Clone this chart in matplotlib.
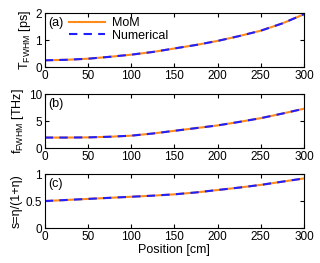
import numpy as np
import matplotlib
matplotlib.use('Agg')
import matplotlib.pyplot as plt

# values
position = [0, 25, 50, 75, 100, 125, 150, 175, 200, 225, 250, 275, 300]
t_fwhm = [0.25, 0.27, 0.31, 0.38, 0.46, 0.56, 0.69, 0.82, 0.97, 1.15, 1.35, 1.62, 1.96]
f_fwhm = [1.95, 1.95, 1.98, 2.1, 2.3, 2.7, 3.2, 3.7, 4.2, 4.85, 5.55, 6.4, 7.3]
s_eta = [0.50, 0.52, 0.54, 0.56, 0.58, 0.60, 0.625, 0.66, 0.705, 0.75, 0.80, 0.86, 0.92]

ylabels = [r'T$_{\rm FWHM}$ [ps]', r'f$_{\rm FWHM}$ [THz]', 's=η/(1+η)']
ylims = [(0, 2), (0, 10), (0, 1)]
yticks = [[0, 1, 2], [0, 5, 10], [0, 0.5, 1]]
yticklabels = [['0', '1', '2'], ['0', '5', '10'], ['0', '0.5', '1']]
tags = ['(a)', '(b)', '(c)']
series = [t_fwhm, f_fwhm, s_eta]

orange = '#ff8c1a'
blue = '#1f1fff'

plt.rcParams['font.family'] = ['Liberation Sans', 'DejaVu Sans']
plt.rcParams['mathtext.fontset'] = 'custom'
plt.rcParams['mathtext.rm'] = 'Liberation Sans'
plt.rcParams['font.size'] = 9

fig = plt.figure(figsize=(3.2, 2.63), dpi=100)

bottoms = [0.745, 0.437, 0.133]
axes = []
for i in range(3):
    ax = fig.add_axes([0.14, bottoms[i], 0.81, 0.205])
    ax.plot(position, series[i], color=orange, lw=1.5, label='MoM')
    ax.plot(position, series[i], color=blue, lw=1.5, ls=(0, (4, 3)), label='Numerical')
    ax.set_xlim(0, 300)
    ax.set_ylim(*ylims[i])
    ax.set_xticks(range(0, 301, 50))
    ax.set_yticks(yticks[i])
    ax.set_yticklabels(yticklabels[i])
    ax.tick_params(direction='in', top=True, right=True, length=3, labelsize=8.5, pad=2)
    ax.set_ylabel(ylabels[i], fontsize=9, labelpad=2)
    ax.text(0.015, 0.93, tags[i], transform=ax.transAxes, va='top', ha='left', fontsize=9)
    axes.append(ax)

axes[0].legend(loc='upper left', bbox_to_anchor=(0.065, 1.07), frameon=False,
               fontsize=9, handlelength=2.9, handletextpad=0.5, labelspacing=0.05,
               borderaxespad=0.2)
axes[2].set_xlabel('Position [cm]', fontsize=9, labelpad=1)

fig.savefig('out.png', dpi=100)
